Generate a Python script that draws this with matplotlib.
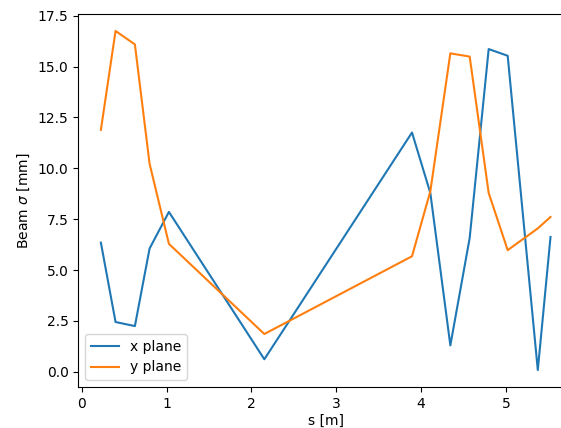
import numpy as np
import matplotlib
matplotlib.use("Agg")
import matplotlib.pyplot as plt

# longitudinal position along the line [m]
s = np.array([0.226, 0.399, 0.627, 0.800, 1.028, 2.153, 3.894,
              4.110, 4.346, 4.574, 4.798, 5.022, 5.377, 5.527])

# beam size in each plane [mm]
sigma_x = np.array([6.35, 2.45, 2.25, 6.06, 7.86, 0.62, 11.76,
                    8.79, 1.30, 6.58, 15.86, 15.53, 0.09, 6.63])
sigma_y = np.array([11.89, 16.75, 16.09, 10.23, 6.29, 1.86, 5.68,
                    8.87, 15.65, 15.49, 8.79, 5.98, 7.05, 7.61])

fig = plt.figure(figsize=(5.61, 4.28), dpi=100)
# axes runs past the right edge of the figure, like the reference
ax = fig.add_axes([78.4/561, 41.0/428, 494.6/561, 373.0/428])

ax.plot(s, sigma_x, label="x plane")
ax.plot(s, sigma_y, label="y plane")

ax.set_xlabel("s [m]", labelpad=2.5)
ax.set_ylabel(r"Beam $\sigma$ [mm]")
ax.legend(loc="lower left")

fig.savefig("out.png", dpi=100)
